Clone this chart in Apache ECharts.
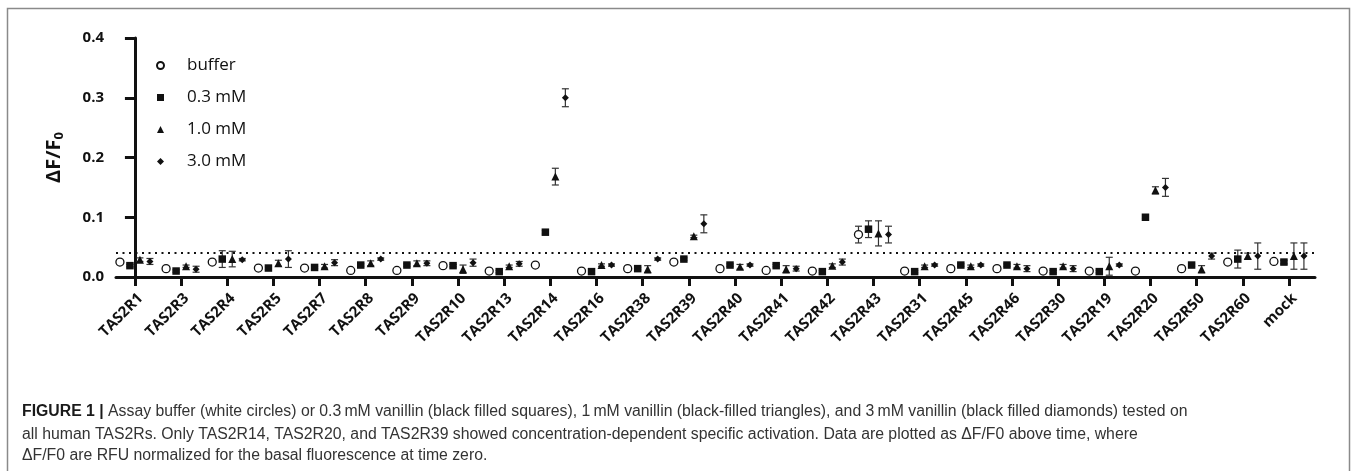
<!DOCTYPE html>
<html>
<head>
<meta charset="utf-8">
<script src="https://cdn.jsdelivr.net/npm/echarts@6/dist/echarts.min.js"></script>
<style>
html,body{margin:0;padding:0;background:#fff;}
#c{width:1357px;height:471px;}
</style>
</head>
<body>
<div id="c"></div>
<script>
// ---- data ----
const categories = ['TAS2R1','TAS2R3','TAS2R4','TAS2R5','TAS2R7','TAS2R8','TAS2R9','TAS2R10','TAS2R13','TAS2R14','TAS2R16','TAS2R38','TAS2R39','TAS2R40','TAS2R41','TAS2R42','TAS2R43','TAS2R31','TAS2R45','TAS2R46','TAS2R30','TAS2R19','TAS2R20','TAS2R50','TAS2R60','mock'];
const seriesNames = ['buffer','0.3 mM','1.0 mM','3.0 mM'];
const buffer    = [0.025,0.014,0.025,0.015,0.015,0.011,0.011,0.019,0.010,0.020,0.010,0.014,0.025,0.014,0.011,0.010,0.071,0.010,0.014,0.014,0.010,0.010,0.010,0.014,0.025,0.026];
const bufferErr = [0.003,0.002,0.003,0.002,0.002,0.000,0.000,0.002,0.000,0.000,0.000,0.002,0.003,0.002,0.000,0.000,0.014,0.000,0.002,0.002,0.000,0.000,0.000,0.002,0.003,0.003];
const mM03      = [0.019,0.010,0.030,0.015,0.016,0.020,0.020,0.019,0.009,0.075,0.009,0.014,0.030,0.020,0.019,0.009,0.080,0.009,0.020,0.020,0.009,0.009,0.100,0.020,0.030,0.025];
const mM03Err   = [0.002,0.002,0.014,0.002,0.002,0.002,0.002,0.002,0.002,0.003,0.002,0.002,0.002,0.002,0.002,0.002,0.014,0.002,0.002,0.002,0.002,0.002,0.002,0.002,0.015,0.003];
const mM1       = [0.029,0.018,0.030,0.023,0.018,0.023,0.023,0.013,0.018,0.168,0.020,0.013,0.068,0.017,0.013,0.019,0.073,0.018,0.018,0.018,0.018,0.018,0.145,0.013,0.035,0.035];
const mM1Err    = [0.003,0.002,0.013,0.005,0.003,0.004,0.004,0.007,0.002,0.014,0.002,0.006,0.002,0.004,0.006,0.003,0.021,0.002,0.002,0.003,0.003,0.015,0.006,0.006,0.005,0.022];
const mM3       = [0.026,0.013,0.029,0.030,0.024,0.030,0.023,0.024,0.022,0.300,0.020,0.030,0.089,0.020,0.014,0.025,0.071,0.020,0.020,0.014,0.014,0.020,0.150,0.035,0.035,0.035];
const mM3Err    = [0.005,0.005,0.002,0.014,0.005,0.002,0.004,0.006,0.004,0.015,0.002,0.002,0.015,0.002,0.004,0.005,0.014,0.002,0.002,0.005,0.005,0.002,0.015,0.005,0.022,0.022];
const threshold = 0.035;
const yTicks = [0, 0.1, 0.2, 0.3, 0.4];
const captionLines = [
  'Assay buffer (white circles) or 0.3\u2009mM vanillin (black filled squares), 1\u2009mM vanillin (black-filled triangles), and 3\u2009mM vanillin (black filled diamonds) tested on',
  'all human TAS2Rs. Only TAS2R14, TAS2R20, and TAS2R39 showed concentration-dependent specific activation. Data are plotted as \u0394F/F0 above time, where',
  '\u0394F/F0 are RFU normalized for the basal fluorescence at time zero.'
];

// ---- build ----
const values = [buffer, mM03, mM1, mM3];
const errs = [bufferErr, mM03Err, mM1Err, mM3Err];
const offsets = [-0.325, -0.108, 0.108, 0.325];
const symbols = ['circle','rect','triangle','diamond'];
const sizes = [8, 7.5, 8, 7];
const ink = '#111';

const series = [];
values.forEach((arr, s) => {
  const pts = arr.map((v, i) => [i + offsets[s], v, errs[s][i]]);
  series.push({
    type: 'custom',
    name: seriesNames[s] + ' err',
    silent: true,
    z: 2,
    renderItem: function (params, api) {
      const x = api.value(0), y = api.value(1), e = api.value(2);
      if (!e) return null;
      const t = api.coord([x, y + e]);
      const b = api.coord([x, y - e]);
      const cw = 3.5;
      const st = { stroke: '#333', lineWidth: 1.2 };
      return { type: 'group', children: [
        { type: 'line', shape: { x1: t[0], y1: t[1], x2: b[0], y2: b[1] }, style: st },
        { type: 'line', shape: { x1: t[0]-cw, y1: t[1], x2: t[0]+cw, y2: t[1] }, style: st },
        { type: 'line', shape: { x1: b[0]-cw, y1: b[1], x2: b[0]+cw, y2: b[1] }, style: st }
      ]};
    },
    encode: { x: 0, y: 1 },
    data: pts
  });
  series.push({
    type: 'scatter',
    name: seriesNames[s],
    symbol: symbols[s],
    symbolSize: sizes[s],
    z: 3,
    itemStyle: s === 0 ? { color: '#fff', borderColor: ink, borderWidth: 1.3, opacity: 1 }
                       : { color: ink, borderWidth: 0, opacity: 1 },
    data: pts.map(p => [p[0], p[1]]),
    markLine: s === 0 ? {
      silent: true, symbol: 'none', animation: false,
      label: { show: false },
      lineStyle: { color: ink, type: [2, 4.5], width: 2 },
      data: [{ yAxis: threshold }]
    } : undefined
  });
});

const chart = echarts.init(document.getElementById('c'), null, { renderer: 'canvas' });
const idx = categories.map((c, i) => i);
chart.setOption({
  animation: false,
  backgroundColor: '#fff',
  grid: { left: 116, top: 38, right: 42, bottom: 194, containLabel: false },
  legend: {
    orient: 'vertical',
    left: 151, top: 52,
    itemWidth: 7, itemHeight: 7,
    itemGap: 15,
    data: seriesNames,
    textStyle: { fontFamily: 'Open Sans', fontSize: 17, color: ink, padding: [0, 0, 0, 18] },
    selectedMode: false
  },
  xAxis: {
    type: 'value',
    min: -0.41, max: 25.565,
    splitLine: { show: false },
    axisLine: { show: true, onZero: false, lineStyle: { color: ink, width: 3 } },
    axisTick: { show: true, customValues: idx, length: 9, lineStyle: { color: ink, width: 3 } },
    axisLabel: {
      customValues: idx.map(i => i + 0.12),
      rotate: 45, margin: 19,
      fontFamily: 'Open Sans', fontWeight: 'bold', fontSize: 15, color: ink,
      formatter: v => categories[Math.round(v)]
    }
  },
  yAxis: {
    type: 'value',
    min: 0, max: 0.4, interval: 0.1,
    splitLine: { show: false },
    axisLine: { show: true, lineStyle: { color: ink, width: 3 } },
    axisTick: { show: true, length: 10, lineStyle: { color: ink, width: 3 } },
    axisLabel: {
      margin: 12,
      fontFamily: 'Open Sans', fontWeight: 'bold', fontSize: 15, color: ink,
      formatter: v => (yTicks.indexOf(+v.toFixed(1)) >= 0 ? v.toFixed(1) : '')
    },
    name: '{a|\u0394F/F}{b|0}',
    nameLocation: 'middle',
    nameGap: 50,
    nameRotate: 90,
    nameTextStyle: {
      rich: {
        a: { fontFamily: 'Open Sans', fontWeight: 'bold', fontSize: 20, color: ink },
        b: { fontFamily: 'Open Sans', fontWeight: 'bold', fontSize: 13, color: ink, padding: [10, 0, 0, 0] }
      }
    }
  },
  graphic: [
    { type: 'rect', silent: true, z: 0, shape: { x: 7.5, y: 8.5, width: 1342, height: 480 }, style: { fill: 'none', stroke: '#8a8a8a', lineWidth: 1.5 } },
    { type: 'text', left: 22, top: 404, style: {
        text: '{b|FIGURE 1 |} ' + captionLines[0],
        rich: { b: { fontFamily: 'Liberation Sans', fontWeight: 'bold', fontSize: 15.8, fill: '#1a1a1a' } },
        fontFamily: 'Liberation Sans', fontSize: 15.8, fill: '#333' } },
    { type: 'text', left: 22, top: 427, style: { text: captionLines[1], fontFamily: 'Liberation Sans', fontSize: 15.8, fill: '#333' } },
    { type: 'text', left: 22, top: 448, style: { text: captionLines[2], fontFamily: 'Liberation Sans', fontSize: 15.8, fill: '#333' } }
  ],
  series: series
});
</script>
</body>
</html>
